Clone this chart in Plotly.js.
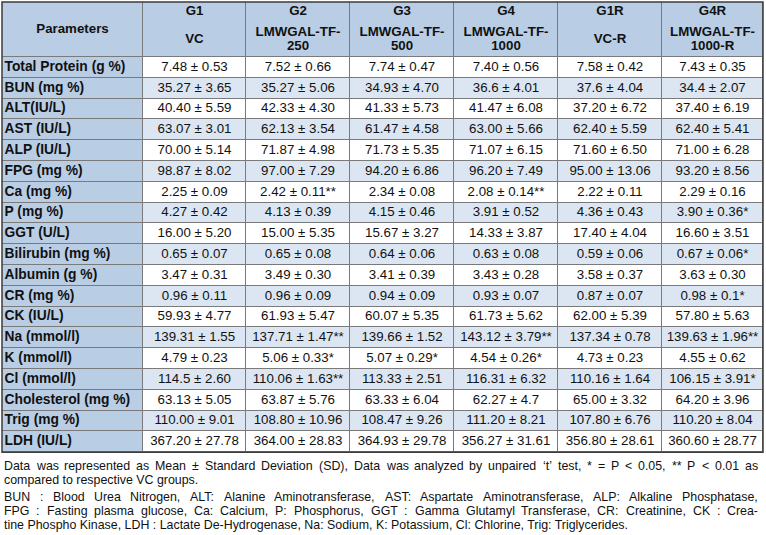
<!DOCTYPE html>
<html>
<head>
<meta charset="utf-8">
<script src="https://cdn.plot.ly/plotly-3.0.1.min.js"></script>
<style>html,body{margin:0;padding:0;background:#fff;}#chart{width:766px;height:535px;}</style>
</head>
<body>
<div id="chart"></div>
<script>
// ---- data ----
var parameters = ["Total Protein (g %)","BUN (mg %)","ALT(IU/L)","AST (IU/L)","ALP (IU/L)","FPG (mg %)","Ca (mg %)","P (mg %)","GGT (U/L)","Bilirubin (mg %)","Albumin (g %)","CR (mg %)","CK (IU/L)","Na (mmol/l)","K (mmol/l)","Cl (mmol/l)","Cholesterol (mg %)","Trig (mg %)","LDH (IU/L)"];
var groupCodes = ["G1","G2","G3","G4","G1R","G4R"];
var groupNames = [["VC"],["LMWGAL-TF-","250"],["LMWGAL-TF-","500"],["LMWGAL-TF-","1000"],["VC-R"],["LMWGAL-TF-","1000-R"]];
var g1  = ["7.48 ± 0.53","35.27 ± 3.65","40.40 ± 5.59","63.07 ± 3.01","70.00 ± 5.14","98.87 ± 8.02","2.25 ± 0.09","4.27 ± 0.42","16.00 ± 5.20","0.65 ± 0.07","3.47 ± 0.31","0.96 ± 0.11","59.93 ± 4.77","139.31 ± 1.55","4.79 ± 0.23","114.5 ± 2.60","63.13 ± 5.05","110.00 ± 9.01","367.20 ± 27.78"];
var g2  = ["7.52 ± 0.66","35.27 ± 5.06","42.33 ± 4.30","62.13 ± 3.54","71.87 ± 4.98","97.00 ± 7.29","2.42 ± 0.11**","4.13 ± 0.39","15.00 ± 5.35","0.65 ± 0.08","3.49 ± 0.30","0.96 ± 0.09","61.93 ± 5.47","137.71 ± 1.47**","5.06 ± 0.33*","110.06 ± 1.63**","63.87 ± 5.76","108.80 ± 10.96","364.00 ± 28.83"];
var g3  = ["7.74 ± 0.47","34.93 ± 4.70","41.33 ± 5.73","61.47 ± 4.58","71.73 ± 5.35","94.20 ± 6.86","2.34 ± 0.08","4.15 ± 0.46","15.67 ± 3.27","0.64 ± 0.06","3.41 ± 0.39","0.94 ± 0.09","60.07 ± 5.35","139.66 ± 1.52","5.07 ± 0.29*","113.33 ± 2.51","63.33 ± 6.04","108.47 ± 9.26","364.93 ± 29.78"];
var g4  = ["7.40 ± 0.56","36.6 ± 4.01","41.47 ± 6.08","63.00 ± 5.66","71.07 ± 6.15","96.20 ± 7.49","2.08 ± 0.14**","3.91 ± 0.52","14.33 ± 3.87","0.63 ± 0.08","3.43 ± 0.28","0.93 ± 0.07","61.73 ± 5.62","143.12 ± 3.79**","4.54 ± 0.26*","116.31 ± 6.32","62.27 ± 4.7","111.20 ± 8.21","356.27 ± 31.61"];
var g1r = ["7.58 ± 0.42","37.6 ± 4.04","37.20 ± 6.72","62.40 ± 5.59","71.60 ± 6.50","95.00 ± 13.06","2.22 ± 0.11","4.36 ± 0.43","17.40 ± 4.04","0.59 ± 0.06","3.58 ± 0.37","0.87 ± 0.07","62.00 ± 5.39","137.34 ± 0.78","4.73 ± 0.23","110.16 ± 1.64","65.00 ± 3.32","107.80 ± 6.76","356.80 ± 28.61"];
var g4r = ["7.43 ± 0.35","34.4 ± 2.07","37.40 ± 6.19","62.40 ± 5.41","71.00 ± 6.28","93.20 ± 8.56","2.29 ± 0.16","3.90 ± 0.36*","16.60 ± 3.51","0.67 ± 0.06*","3.63 ± 0.30","0.98 ± 0.1*","57.80 ± 5.63","139.63 ± 1.96**","4.55 ± 0.62","106.15 ± 3.91*","64.20 ± 3.96","110.20 ± 8.04","360.60 ± 28.77"];
var groupValues = [g1, g2, g3, g4, g1r, g4r];

var footLines = [
  {text: "Data was represented as Mean ± Standard Deviation (SD), Data was analyzed by unpaired ‘t’ test, * = P < 0.05, ** P < 0.01 as", justify: true},
  {text: "compared to respective VC groups.", justify: false},
  {text: "BUN : Blood Urea Nitrogen, ALT: Alanine Aminotransferase, AST: Aspartate Aminotransferase, ALP: Alkaline Phosphatase,", justify: true},
  {text: "FPG : Fasting plasma glucose, Ca: Calcium, P: Phosphorus, GGT : Gamma Glutamyl Transferase, CR: Creatinine, CK : Crea-", justify: true},
  {text: "tine Phospho Kinase, LDH : Lactate De-Hydrogenase, Na: Sodium, K: Potassium, Cl: Chlorine, Trig: Triglycerides.", justify: false}
];

// ---- layout constants (table geometry, in px of the axes) ----
var FONT = "Liberation Sans, Arial, sans-serif";
var FS = 13.3, PARAM_FS = 13.8, FOOT_FS = 12.4;
var colWidths = [141, 103, 104, 104, 104, 104, 101];
var HEADER_H = 55, ROW_H = 20.8;
var TEXT_COL = "#111111";

var xEdges = [0];
colWidths.forEach(function (w) { xEdges.push(xEdges[xEdges.length - 1] + w); });
var yEdges = [0, HEADER_H];
parameters.forEach(function () { yEdges.push(yEdges[yEdges.length - 1] + ROW_H); });
var tableW = xEdges[xEdges.length - 1], tableH = yEdges[yEdges.length - 1];
function colCenter(c) { return (xEdges[c] + xEdges[c + 1]) / 2; }
function rowCenter(k) { return (yEdges[k + 1] + yEdges[k + 2]) / 2; }

// ---- cell fills (heatmap) ----
var z = [];
z.push(colWidths.map(function () { return 0; }));
parameters.forEach(function (p, k) {
  var row = [0];
  for (var c = 1; c < colWidths.length; c++) row.push(k % 2 === 0 ? 1 : 2);
  z.push(row);
});
var fills = {
  type: "heatmap", x: xEdges, y: yEdges, z: z, zmin: 0, zmax: 2,
  colorscale: [[0, "#b9cde5"], [0.5, "#ffffff"], [1, "#dce6f2"]],
  showscale: false, xgap: 1, ygap: 1, hoverinfo: "skip"
};

// ---- cell texts ----
var vx = [], vy = [], vt = [];
groupValues.forEach(function (arr, g) {
  arr.forEach(function (v, k) { vx.push(colCenter(g + 1)); vy.push(rowCenter(k)); vt.push(v); });
});
var values = {
  type: "scatter", mode: "text", x: vx, y: vy, text: vt, textposition: "middle center",
  textfont: {family: FONT, size: FS, color: TEXT_COL}, hoverinfo: "skip", cliponaxis: false
};
var params = {
  type: "scatter", mode: "text",
  x: parameters.map(function () { return 2.5; }),
  y: parameters.map(function (p, k) { return rowCenter(k); }),
  text: parameters.map(function (p) { return "<b>" + p + "</b>"; }),
  textposition: "middle right",
  textfont: {family: FONT, size: PARAM_FS, color: TEXT_COL}, hoverinfo: "skip", cliponaxis: false
};
var hx = [colCenter(0)], hy = [HEADER_H / 2], ht = ["<b>Parameters</b>"];
groupCodes.forEach(function (code, g) {
  hx.push(colCenter(g + 1)); hy.push(10); ht.push("<b>" + code + "</b>");
  var nm = groupNames[g];
  if (nm.length === 1) { hx.push(colCenter(g + 1)); hy.push(38); ht.push("<b>" + nm[0] + "</b>"); }
  else {
    hx.push(colCenter(g + 1)); hy.push(31); ht.push("<b>" + nm[0] + "</b>");
    hx.push(colCenter(g + 1)); hy.push(45); ht.push("<b>" + nm[1] + "</b>");
  }
});
var header = {
  type: "scatter", mode: "text", x: hx, y: hy, text: ht, textposition: "middle center",
  textfont: {family: FONT, size: FS, color: TEXT_COL}, hoverinfo: "skip", cliponaxis: false
};

// ---- footnotes (justified with measured word widths) ----
var ctx = document.createElement("canvas").getContext("2d");
ctx.font = FOOT_FS + "px 'Liberation Sans'";
var FOOT_L = 1, FOOT_R = 755;
var footY = [464, 478, 495, 509, 523];
var annotations = [];
footLines.forEach(function (ln, i) {
  if (!ln.justify) {
    annotations.push({xref: "x", yref: "y", x: FOOT_L, y: footY[i], xanchor: "left", yanchor: "middle",
      text: ln.text, showarrow: false, borderpad: 0, font: {family: FONT, size: FOOT_FS, color: TEXT_COL}});
    return;
  }
  var words = ln.text.split(" ");
  var widths = words.map(function (w) { return ctx.measureText(w).width; });
  var total = widths.reduce(function (a, b) { return a + b; }, 0);
  var gap = (FOOT_R - FOOT_L - total) / (words.length - 1);
  var xpos = FOOT_L;
  words.forEach(function (w, j) {
    annotations.push({xref: "x", yref: "y", x: xpos, y: footY[i], xanchor: "left", yanchor: "middle",
      text: w, showarrow: false, borderpad: 0, font: {family: FONT, size: FOOT_FS, color: TEXT_COL}});
    xpos += widths[j] + gap;
  });
});

var layout = {
  width: 766, height: 535,
  margin: {l: 0, r: 0, t: 0, b: 0, pad: 0},
  paper_bgcolor: "#ffffff", plot_bgcolor: "#ffffff",
  showlegend: false,
  xaxis: {range: [-2, 764], visible: false, fixedrange: true},
  yaxis: {range: [533, -2], visible: false, fixedrange: true},
  annotations: annotations,
  shapes: [
    {type: "rect", xref: "x", yref: "y", x0: 0, x1: tableW, y0: 0, y1: tableH, layer: "below",
      line: {width: 0}, fillcolor: "#7a7a7a"},
    {type: "rect", xref: "x", yref: "y", x0: 0, x1: tableW, y0: 0, y1: tableH, layer: "above",
      line: {color: "#3c3c3c", width: 1.5}, fillcolor: "rgba(0,0,0,0)"}
  ]
};

Plotly.newPlot("chart", [fills, header, params, values], layout, {displayModeBar: false, staticPlot: true});
</script>
</body>
</html>
